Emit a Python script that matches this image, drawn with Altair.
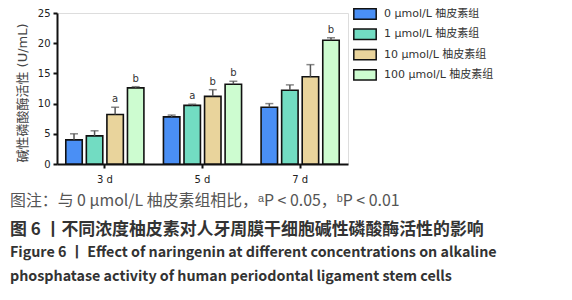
import altair as alt
import pandas as pd

days = ["3 d", "5 d", "7 d"]
groups = ["0 μmol/L 柚皮素组", "1 μmol/L 柚皮素组", "10 μmol/L 柚皮素组", "100 μmol/L 柚皮素组"]
colors = ["#4a8ff5", "#72dcc2", "#e9d49c", "#cdfcd0"]

means = {
    "3 d": [4.0, 4.65, 8.2, 12.6],
    "5 d": [7.8, 9.7, 11.2, 13.2],
    "7 d": [9.4, 12.2, 14.45, 20.5],
}
errs = {
    "3 d": [1.0, 0.85, 1.2, 0.2],
    "5 d": [0.3, 0.2, 1.1, 0.5],
    "7 d": [0.6, 0.9, 2.0, 0.4],
}
marks = {
    "3 d": ["", "", "a", "b"],
    "5 d": ["", "a", "b", "b"],
    "7 d": ["", "", "", "b"],
}
yticks = [0, 5, 10, 15, 20, 25]

caption = [
    "图注：与 0 μmol/L 柚皮素组相比，ᵃP < 0.05，ᵇP < 0.01",
    "图 6 丨不同浓度柚皮素对人牙周膜干细胞碱性磷酸酶活性的影响",
    "Figure 6  丨 Effect of naringenin at different concentrations on alkaline",
    "phosphatase activity of human periodontal ligament stem cells",
]

rows = []
for d in days:
    for i, g in enumerate(groups):
        m = means[d][i]
        e = errs[d][i]
        rows.append({"day": d, "group": g, "mean": m, "top": m + e, "sig": marks[d][i]})
df = pd.DataFrame(rows)

W, H = 291, 151
TOP = 5
FONT = "DejaVu Sans, 'Noto Sans CJK SC'"

xaxis = alt.Axis(title=None, labelAngle=0, labelFont=FONT, labelFontSize=10,
                 labelColor="#222", domainColor="#111", domainWidth=2,
                 tickColor="#111", tickWidth=2, tickSize=4, labelPadding=6)
yaxis = alt.Axis(values=yticks, title="碱性磷酸酶活性 (U/mL)",
                 labelOverlap=False, labelFlush=False,
                 titleFont=FONT, titleFontSize=13, titleFontWeight="normal",
                 titleColor="#444", titleX=-35, titleY=H / 2 + 4, titleAngle=-90,
                 titleBaseline="middle", titleAlign="center",
                 labelFont=FONT, labelFontSize=10, labelColor="#222",
                 domainColor="#111", domainWidth=2, tickColor="#111",
                 tickWidth=2, tickSize=4, labelPadding=3, grid=False)
xscale = alt.Scale(paddingInner=0.2, paddingOuter=0.09)
offscale = alt.Scale(paddingInner=0.2, paddingOuter=0.0)
yscale = alt.Scale(domain=[0, 25], nice=False)


def xe():
    return alt.X("day:N", sort=days, scale=xscale, axis=xaxis)


def oe():
    return alt.XOffset("group:N", sort=groups, scale=offscale)


def ye(field):
    return alt.Y(field, scale=yscale, axis=yaxis)


base = alt.Chart(df)

bars = base.mark_bar(stroke="#111", strokeWidth=1.6).encode(
    x=xe(), xOffset=oe(), y=ye("mean:Q"),
    color=alt.Color("group:N", sort=groups,
                    scale=alt.Scale(domain=groups, range=colors),
                    legend=alt.Legend(title=None, orient="none", legendX=299, legendY=-8,
                                      symbolType="M-1.4,-0.65H1.4V0.65H-1.4Z", symbolSize=256,
                                      symbolStrokeColor="#111", symbolStrokeWidth=1.5,
                                      symbolOpacity=1, labelFont=FONT, labelFontSize=11,
                                      labelColor="#333", labelOffset=10, rowPadding=2.3)),
)

rules = base.mark_rule(color="#555", strokeWidth=1.5).encode(
    x=xe(), xOffset=oe(), y=ye("mean:Q"), y2="top:Q",
)
caps = base.mark_tick(color="#555", thickness=1.5, size=8, orient="horizontal").encode(
    x=xe(), xOffset=oe(), y=ye("top:Q"),
)
labels = base.mark_text(font=FONT, fontSize=10, color="#333", baseline="bottom", dy=-3).encode(
    x=xe(), xOffset=oe(), y=ye("top:Q"), text="sig:N",
)

cap_layers = []
cap_styles = [
    dict(y=188, size=15.9, color="#555", weight="normal"),
    dict(y=217, size=16.9, color="#333", weight="bold"),
    dict(y=240, size=14.3, color="#333", weight="bold"),
    dict(y=264, size=14.3, color="#333", weight="bold"),
]
for line, st in zip(caption, cap_styles):
    cap_layers.append(
        alt.Chart(pd.DataFrame({"t": [line]})).mark_text(
            align="left", baseline="middle", fontSize=st["size"], color=st["color"],
            fontWeight=st["weight"], font="'Noto Sans CJK SC', 'Liberation Sans'",
        ).encode(text="t:N", x=alt.value(-47), y=alt.value(st["y"]))
    )

chart = alt.layer(bars, rules, caps, labels, *cap_layers).properties(
    width=W, height=H,
    autosize=alt.AutoSizeParams(type="none"),
    padding={"left": 49, "top": TOP, "right": 216, "bottom": 126},
).configure_view(stroke=None).configure(background="white")

chart.save("out.html", embed_options={"renderer": "svg", "actions": False})
